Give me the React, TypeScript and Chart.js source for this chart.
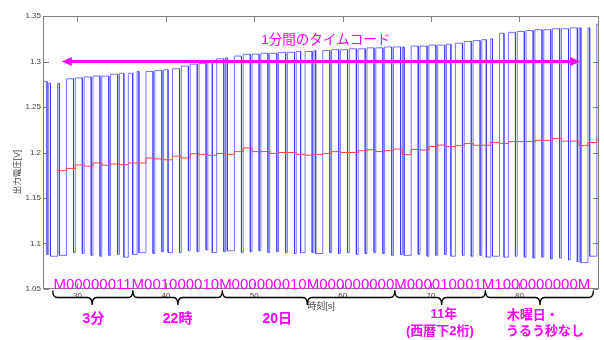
import React, { useEffect, useRef } from "react";
import { Chart, registerables } from "chart.js";

Chart.register(...registerables);

// ---------------- data ----------------
// time [s] at which the minute marker (second 0) of the received JJY minute starts
const minuteStart = 27.75;
// index of the first received second relative to the minute marker
const firstSecond = -2;
// received code for every second (from second 58 of the previous minute to second 1 of the next)
const secondCodes = "0MM00000011M001000010M000000010M000000000M000010001M100000000MM0";
// carrier "high" duration for each code [s]
const pulseWidth: Record<string, number> = { M: 0.2, "1": 0.5, "0": 0.8 };

// output voltage of the high part of each second [V]
const highLevels = [
  1.278, 1.276, 1.276, 1.281, 1.282, 1.283, 1.284, 1.284,
  1.286, 1.287, 1.287, 1.289, 1.289, 1.29, 1.291, 1.292,
  1.295, 1.297, 1.298, 1.301, 1.303, 1.304, 1.306, 1.308,
  1.308, 1.309, 1.309, 1.31, 1.31, 1.311, 1.311, 1.312,
  1.312, 1.313, 1.313, 1.314, 1.314, 1.315, 1.315, 1.316,
  1.316, 1.316, 1.317, 1.317, 1.318, 1.318, 1.319, 1.32,
  1.322, 1.323, 1.324, 1.325, 1.331, 1.332, 1.333, 1.334,
  1.335, 1.335, 1.336, 1.336, 1.337, 1.337, 1.337, 1.341,
];
// output voltage of the low part of each second [V]
const lowLevels = [
  1.088, 1.086, 1.087, 1.09, 1.089, 1.087, 1.086, 1.087,
  1.088, 1.085, 1.088, 1.09, 1.089, 1.091, 1.09, 1.09,
  1.092, 1.091, 1.093, 1.09, 1.091, 1.092, 1.09, 1.091,
  1.092, 1.09, 1.091, 1.09, 1.089, 1.09, 1.09, 1.089,
  1.09, 1.089, 1.09, 1.088, 1.089, 1.09, 1.089, 1.087,
  1.088, 1.087, 1.088, 1.086, 1.087, 1.088, 1.086, 1.087,
  1.086, 1.087, 1.085, 1.086, 1.085, 1.086, 1.085, 1.084,
  1.085, 1.083, 1.084, 1.082, 1.08, 1.079, 1.086, 1.09,
];
// red trace: per-second level, from second 0 of the minute [V]
const redLevels = [
  1.18, 1.1825, 1.1863, 1.185, 1.1885, 1.186, 1.1874, 1.1866,
  1.1885, 1.1885, 1.194, 1.193, 1.192, 1.196, 1.194, 1.1987,
  1.198, 1.197, 1.199, 1.198, 1.201, 1.205, 1.201, 1.201,
  1.199, 1.2, 1.2, 1.198, 1.197, 1.198, 1.199, 1.201,
  1.2, 1.2, 1.202, 1.203, 1.201, 1.202, 1.2038, 1.1976,
  1.2034, 1.2027, 1.2067, 1.2082, 1.2064, 1.2075, 1.21, 1.208,
  1.208, 1.2111, 1.21, 1.2119, 1.212, 1.2119, 1.2134, 1.2134,
  1.2155, 1.2125, 1.2125, 1.2075, 1.211, 1.2159,
];

const xMin = 26.1;
const xMax = 89.0;
const yMin = 1.05;
const yMax = 1.35;
const xTickValues = [30, 40, 50, 60, 70, 80];
const xTickLabels = ["30", "40", "50", "60", "70", "80"];
const yTickValues = [1.05, 1.1, 1.15, 1.2, 1.25, 1.3, 1.35];
const yTickLabels = ["1.05", "1.1", "1.15", "1.2", "1.25", "1.3", "1.35"];

const xTitle = "時刻[s]";
const yTitle = "出力電圧[V]";
const headline = "1分間のタイムコード";
const codeText = "M00000011M001000010M000000010M000000000M000010001M1000000000M";
// time segments of the code [s] and the label of each
const segmentStarts = [27.2, 36.26, 46.39, 65.9, 76.15];
const segmentEnds = [36.26, 46.39, 65.9, 76.15, 88.36];
const segmentTips = [31.66, 41.36, 56.0, 71.2, 82.33];
const segmentLabels = [["3分"], ["22時"], ["20日"], ["11年", "(西暦下2桁)"], ["木曜日・", "うるう秒なし"]];

// ---------------- derived series ----------------
const bluePoints: { x: number; y: number }[] = [];
for (let i = 0; i < secondCodes.length; i++) {
  const t = minuteStart + firstSecond + i;
  const d = pulseWidth[secondCodes[i]];
  if (i > 0) bluePoints.push({ x: t, y: lowLevels[i - 1] });
  bluePoints.push({ x: t, y: highLevels[i] });
  bluePoints.push({ x: t + d, y: highLevels[i] });
  bluePoints.push({ x: t + d, y: lowLevels[i] });
}
const redPoints = redLevels.map((v, k) => ({ x: minuteStart + k, y: v }));
redPoints.push({ x: xMax, y: redLevels[redLevels.length - 1] });

// ---------------- styling / annotation layout ----------------
const MAGENTA = "#ff00ff";
const AXIS_GREY = "#808080";
const LABEL_GREY = "#444444";
const LATIN = '"Liberation Sans", Arial, sans-serif';
const MIXED = '"Liberation Sans", "Noto Sans CJK JP", sans-serif';

const annotationLayout = {
  arrowFrom: 28.22,
  arrowTo: 86.87,
  arrowLevel: 1.3,
  headlineX: 58.09,
  headlineLevel: 1.3234,
  codeTextX: 27.28,
  // label placements: [x(data) , dy below plot bottom, align]
  labelPlaces: [
    [[31.8, 30, "center"]],
    [[41.33, 30, "center"]],
    [[52.6, 30, "center"]],
    [[71.45, 25, "center"], [71.0, 42, "center"]],
    [[78.55, 26, "left"], [78.47, 42, "left"]],
  ] as [number, number, CanvasTextAlign][][],
};

function drawBrace(ctx: CanvasRenderingContext2D, x0: number, x1: number, xm: number, yTop: number) {
  const yb = yTop + 7;
  const tip = 7.5;
  const r = 4.5;
  ctx.beginPath();
  ctx.moveTo(x0, yTop);
  ctx.quadraticCurveTo(x0, yb, x0 + r, yb);
  ctx.lineTo(xm - r, yb);
  ctx.quadraticCurveTo(xm, yb, xm, yb + tip);
  ctx.quadraticCurveTo(xm, yb, xm + r, yb);
  ctx.lineTo(x1 - r, yb);
  ctx.quadraticCurveTo(x1, yb, x1, yTop);
  ctx.stroke();
}

const decorPlugin = {
  id: "decor",
  afterDraw(chart: any) {
    const { ctx, chartArea: ca, scales } = chart;
    const xs = scales.x;
    const ys = scales.y;
    ctx.save();

    // frame
    ctx.strokeStyle = AXIS_GREY;
    ctx.lineWidth = 1;
    ctx.strokeRect(ca.left + 0.5, ca.top + 0.5, ca.right - ca.left - 1, ca.bottom - ca.top - 1);
    // inner tick marks
    ctx.beginPath();
    for (const v of xTickValues) {
      const px = Math.round(xs.getPixelForValue(v)) + 0.5;
      ctx.moveTo(px, ca.bottom - 1);
      ctx.lineTo(px, ca.bottom - 6);
      ctx.moveTo(px, ca.top + 1);
      ctx.lineTo(px, ca.top + 6);
    }
    for (const v of yTickValues) {
      const py = Math.round(ys.getPixelForValue(v)) + 0.5;
      ctx.moveTo(ca.left + 1, py);
      ctx.lineTo(ca.left + 6, py);
      ctx.moveTo(ca.right - 1, py);
      ctx.lineTo(ca.right - 6, py);
    }
    ctx.stroke();

    // axis titles
    ctx.fillStyle = LABEL_GREY;
    ctx.font = `9px ${MIXED}`;
    ctx.textAlign = "center";
    ctx.textBaseline = "middle";
    ctx.fillText(xTitle, (ca.left + ca.right) / 2, ca.bottom + 18);
    ctx.save();
    ctx.translate(18, 172);
    ctx.rotate(-Math.PI / 2);
    ctx.font = `8.5px ${MIXED}`;
    ctx.fillText(yTitle, 0, 0);
    ctx.restore();

    // double arrow
    const L = annotationLayout;
    const xa = xs.getPixelForValue(L.arrowFrom);
    const xb = xs.getPixelForValue(L.arrowTo);
    const ya = ys.getPixelForValue(L.arrowLevel);
    ctx.strokeStyle = MAGENTA;
    ctx.fillStyle = MAGENTA;
    ctx.lineWidth = 3.2;
    ctx.beginPath();
    ctx.moveTo(xa + 6, ya);
    ctx.lineTo(xb - 6, ya);
    ctx.stroke();
    ctx.beginPath();
    ctx.moveTo(xa, ya);
    ctx.lineTo(xa + 10, ya - 4.5);
    ctx.lineTo(xa + 10, ya + 4.5);
    ctx.closePath();
    ctx.fill();
    ctx.beginPath();
    ctx.moveTo(xb, ya);
    ctx.lineTo(xb - 10, ya - 4.5);
    ctx.lineTo(xb - 10, ya + 4.5);
    ctx.closePath();
    ctx.fill();

    // headline
    ctx.font = `13.5px ${MIXED}`;
    ctx.textAlign = "center";
    ctx.textBaseline = "middle";
    ctx.fillText(headline, xs.getPixelForValue(L.headlineX), ys.getPixelForValue(L.headlineLevel));

    // code string
    ctx.font = `15px ${LATIN}`;
    ctx.textAlign = "left";
    ctx.textBaseline = "alphabetic";
    ctx.fillText(codeText, xs.getPixelForValue(L.codeTextX), ca.bottom - 0.5);

    // braces
    ctx.strokeStyle = "#000000";
    ctx.lineWidth = 1.3;
    for (let i = 0; i < segmentStarts.length; i++) {
      drawBrace(
        ctx,
        xs.getPixelForValue(segmentStarts[i]),
        xs.getPixelForValue(segmentEnds[i]),
        xs.getPixelForValue(segmentTips[i]),
        ca.bottom + 1.5
      );
    }

    // segment labels
    ctx.fillStyle = MAGENTA;
    ctx.textBaseline = "middle";
    segmentLabels.forEach((lines, i) => {
      lines.forEach((txt, j) => {
        const [xv, dy, align] = L.labelPlaces[i][j];
        ctx.font = `bold ${i < 3 ? 14 : 13}px ${MIXED}`;
        ctx.textAlign = align;
        ctx.fillText(txt, xs.getPixelForValue(xv), ca.bottom + dy);
      });
    });

    ctx.restore();
  },
};

export default function App() {
  const canvasRef = useRef<HTMLCanvasElement | null>(null);

  useEffect(() => {
    if (!canvasRef.current) return;
    const chart = new Chart(canvasRef.current, {
      type: "line",
      data: {
        datasets: [
          {
            label: "red",
            data: redPoints,
            borderColor: "rgb(255,70,70)",
            borderWidth: 1,
            pointRadius: 0,
            stepped: "before",
            fill: false,
          },
          {
            label: "blue",
            data: bluePoints,
            borderColor: "rgba(50,50,255,0.68)",
            borderWidth: 1,
            pointRadius: 0,
            tension: 0,
            fill: false,
          },
        ],
      },
      options: {
        animation: false,
        responsive: false,
        devicePixelRatio: 1,
        events: [],
        layout: { padding: { left: 0, top: 16, right: 5, bottom: 0 } },
        plugins: {
          legend: { display: false },
          tooltip: { enabled: false },
          title: { display: false },
        },
        scales: {
          x: {
            type: "linear",
            min: xMin,
            max: xMax,
            border: { display: false },
            grid: { display: false, drawTicks: false },
            ticks: {
              color: LABEL_GREY,
              font: { size: 8, family: LATIN },
              padding: 2,
              maxRotation: 0,
              autoSkip: false,
              callback: (_v: any, i: number) => xTickLabels[i],
            },
            afterBuildTicks: (s: any) => {
              s.ticks = xTickValues.map((value) => ({ value }));
            },
            afterFit: (s: any) => {
              s.height = 51;
            },
          },
          y: {
            type: "linear",
            min: yMin,
            max: yMax,
            border: { display: false },
            grid: { display: false, drawTicks: false },
            ticks: {
              color: LABEL_GREY,
              font: { size: 8, family: LATIN },
              padding: 2,
              autoSkip: false,
              callback: (_v: any, i: number) => yTickLabels[i],
            },
            afterBuildTicks: (s: any) => {
              s.ticks = yTickValues.map((value) => ({ value }));
            },
            afterFit: (s: any) => {
              s.width = 43;
            },
          },
        },
      },
      plugins: [decorPlugin],
    });
    return () => chart.destroy();
  }, []);

  return (
    <div style={{ position: "fixed", left: 0, top: 0, width: 604, height: 340, background: "#ffffff" }}>
      <canvas ref={canvasRef} width={604} height={340} style={{ display: "block", width: 604, height: 340 }} />
    </div>
  );
}
